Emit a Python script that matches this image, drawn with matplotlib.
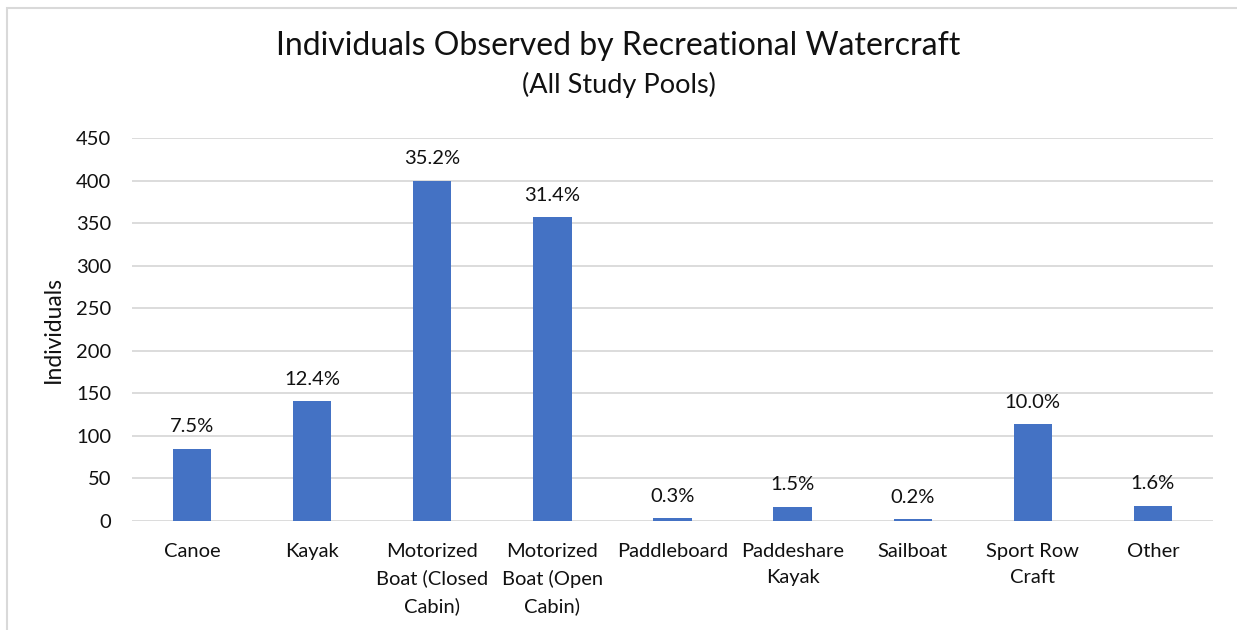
import matplotlib.pyplot as plt
from matplotlib.patches import Rectangle

# values (individuals per craft type)
crafts = ['Canoe', 'Kayak', 'Motorized\nBoat (Closed\nCabin)', 'Motorized\nBoat (Open\nCabin)',
          'Paddleboard', 'Paddeshare\nKayak', 'Sailboat', 'Sport Row\nCraft', 'Other']
counts = [85, 141, 400, 357, 3, 17, 2, 114, 18]
yticks = [0, 50, 100, 150, 200, 250, 300, 350, 400, 450]

plt.rcParams['font.family'] = ['Lato', 'DejaVu Sans']
ink = '#111111'

fig = plt.figure(figsize=(12.37, 6.30), dpi=100)
ax = fig.add_axes([132 / 1237, 1 - 521 / 630, (1213 - 132) / 1237, (521 - 138) / 630])

xs = range(len(crafts))
bars = ax.bar(xs, counts, width=0.32, color='#4472C4', zorder=3)

total = sum(counts)
for b, c in zip(bars, counts):
    ax.annotate('{:.1f}%'.format(100.0 * c / total),
                (b.get_x() + b.get_width() / 2, c),
                xytext=(0, 9.5), textcoords='offset points',
                ha='center', va='bottom', fontsize=14.5, color=ink)

ax.set_ylim(0, 450)
ax.set_xlim(-0.5, len(crafts) - 0.5)
ax.set_yticks(yticks)
ax.set_xticks(list(xs))
ax.set_xticklabels(crafts, linespacing=1.63)
ax.tick_params(axis='both', length=0, labelsize=14.5, colors=ink)
ax.tick_params(axis='y', pad=15)
ax.tick_params(axis='x', pad=16)
ax.grid(axis='y', color='#d9d9d9', linewidth=1.3, zorder=0)
for s in ax.spines.values():
    s.set_visible(False)

ax.set_ylabel('Individuals', fontsize=16.5, color=ink)
ax.yaxis.set_label_coords(-(132 - 64) / 1081, 0.5)

fig.text(0.5, 1 - 46 / 630, 'Individuals Observed by Recreational Watercraft',
         ha='center', va='center', fontsize=23, color=ink)
fig.text(0.5, 1 - 85 / 630, '(All Study Pools)',
         ha='center', va='center', fontsize=19.5, color=ink)

# chart area frame (crop shows only its top and left edges)
fig.patches.append(Rectangle((7.5 / 1237, -0.1), 1.1, 1.1 - 8.5 / 630,
                             transform=fig.transFigure, fill=False,
                             edgecolor='#d9d9d9', linewidth=1.5))

fig.savefig('out.png', dpi=100)
